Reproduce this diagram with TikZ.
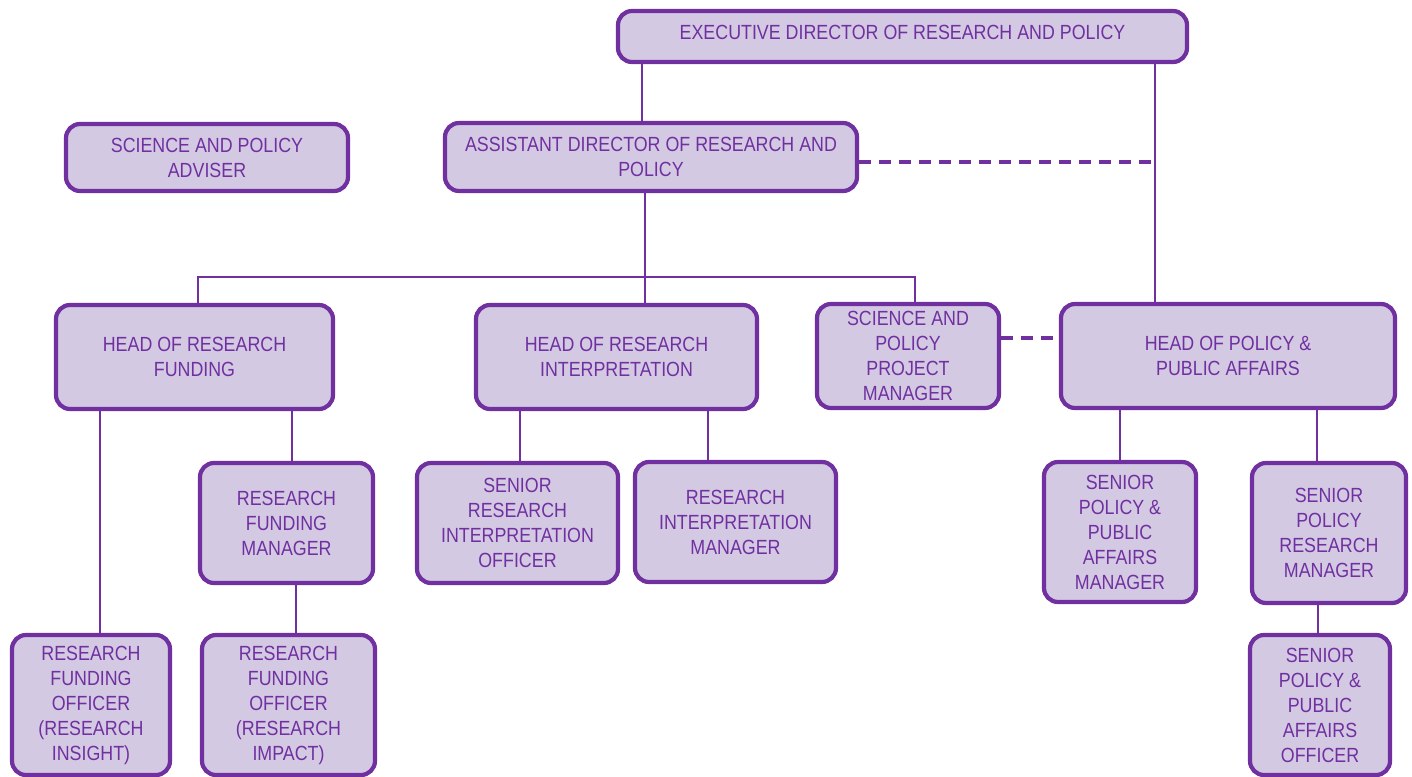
\documentclass[tikz,border=0pt]{standalone}
\usepackage{fontspec}
\setmainfont{Liberation Sans}[FakeStretch=0.87]
\definecolor{pborder}{HTML}{7030A0}
\definecolor{pfill}{HTML}{D4C9E3}
\begin{document}
\begin{tikzpicture}[x=1pt,y=-1pt,
  box/.style={draw=pborder,fill=pfill,line width=4.2pt,rounded corners=14pt,
    inner sep=0pt,align=center,text=pborder,
    font=\fontsize{20.5}{25}\selectfont},
  conn/.style={draw=pborder,line width=2.8pt},
  dconn/.style={conn,line width=3.2pt,dash pattern=on 12pt off 8pt}]
\useasboundingbox (0,0) rectangle (1412,776);
% nodes
\node[box,minimum width=569pt,minimum height=51pt] (exec) at (902.5,36.5) {\raisebox{8pt}{EXECUTIVE DIRECTOR OF RESEARCH AND POLICY}};
\node[box,minimum width=412pt,minimum height=68pt] (asst) at (651,157) {ASSISTANT DIRECTOR OF RESEARCH AND\\POLICY};
\node[box,minimum width=282pt,minimum height=67pt] (adv) at (207,157.5) {SCIENCE AND POLICY\\ADVISER};
\node[box,minimum width=277pt,minimum height=104pt] (hrf) at (194.5,357) {HEAD OF RESEARCH\\FUNDING};
\node[box,minimum width=281pt,minimum height=104pt] (hri) at (616.5,357) {HEAD OF RESEARCH\\INTERPRETATION};
\node[box,minimum width=182pt,minimum height=104pt] (sppm) at (908,356) {SCIENCE AND\\POLICY\\PROJECT\\MANAGER};
\node[box,minimum width=334pt,minimum height=104pt] (hppa) at (1228,356) {HEAD OF POLICY \&\\PUBLIC AFFAIRS};
\node[box,minimum width=173pt,minimum height=120pt] (rfm) at (286.5,523) {RESEARCH\\FUNDING\\MANAGER};
\node[box,minimum width=201pt,minimum height=120pt] (srio) at (517.5,523) {SENIOR\\RESEARCH\\INTERPRETATION\\OFFICER};
\node[box,minimum width=201pt,minimum height=120pt] (rim) at (735.5,522) {RESEARCH\\INTERPRETATION\\MANAGER};
\node[box,minimum width=152pt,minimum height=140pt] (sppam) at (1120,532) {SENIOR\\POLICY \&\\PUBLIC\\AFFAIRS\\MANAGER};
\node[box,minimum width=154pt,minimum height=140pt] (sprm) at (1329,533) {SENIOR\\POLICY\\RESEARCH\\MANAGER};
\node[box,minimum width=158pt,minimum height=140pt] (rfoi) at (91,705) {RESEARCH\\FUNDING\\OFFICER\\(RESEARCH\\INSIGHT)};
\node[box,minimum width=173pt,minimum height=140pt] (rfop) at (288.5,705) {RESEARCH\\FUNDING\\OFFICER\\(RESEARCH\\IMPACT)};
\node[box,minimum width=140pt,minimum height=140pt] (sppao) at (1320,705) {SENIOR\\POLICY \&\\PUBLIC\\AFFAIRS\\OFFICER};
% connectors
\coordinate (bar) at (645,277);
\draw[conn] (exec.south -| 642,0) -- (asst.north -| 642,0);
\draw[conn] (exec.south -| 1155,0) -- (hppa.north -| 1155,0);
\draw[dconn] (asst.east |- 0,162) -- (1155,162);
\draw[conn] (asst.south -| bar) -- (hri.north -| bar);
\draw[conn] (hrf.north -| 198,0) |- (bar) -| (sppm.north -| 915,0);
\draw[dconn] (sppm.east |- 0,338) -- (hppa.west |- 0,338);
\draw[conn] (hrf.south -| 100,0) -- (rfoi.north -| 100,0);
\draw[conn] (hrf.south -| 292,0) -- (rfm.north -| 292,0);
\draw[conn] (rfm.south -| 296,0) -- (rfop.north -| 296,0);
\draw[conn] (hri.south -| 520,0) -- (srio.north -| 520,0);
\draw[conn] (hri.south -| 708,0) -- (rim.north -| 708,0);
\draw[conn] (hppa.south -| 1120,0) -- (sppam.north -| 1120,0);
\draw[conn] (hppa.south -| 1317,0) -- (sprm.north -| 1317,0);
\draw[conn] (sprm.south -| 1318,0) -- (sppao.north -| 1318,0);
\end{tikzpicture}
\end{document}
